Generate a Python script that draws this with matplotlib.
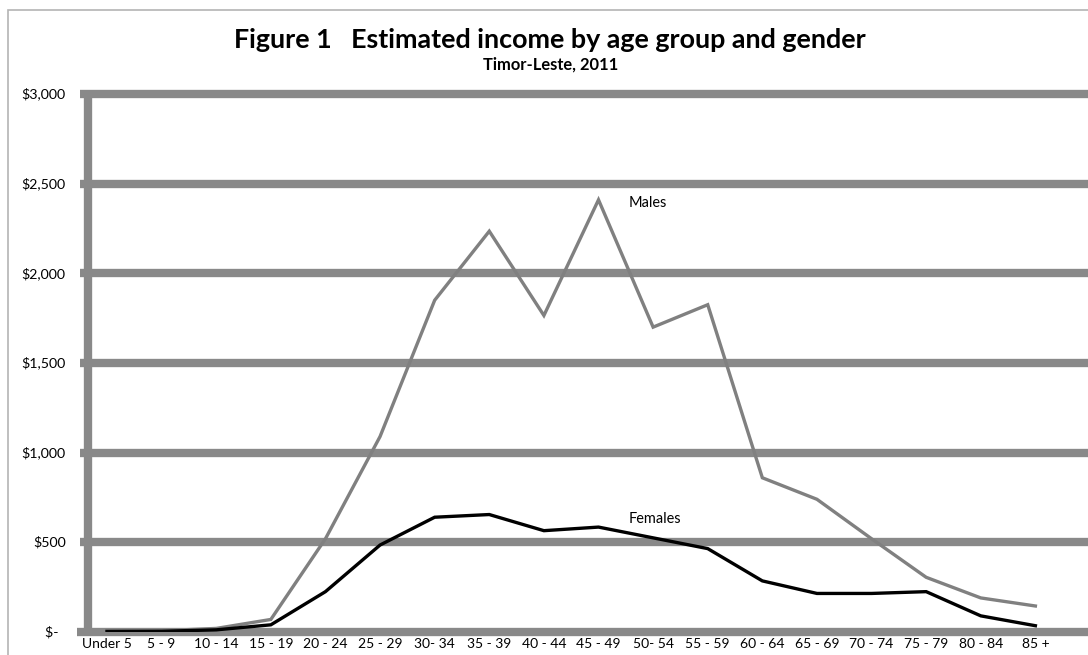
import numpy as np
import matplotlib
matplotlib.use("Agg")
import matplotlib.pyplot as plt
import matplotlib.patches as mpatches

# ── Data ─────────────────────────────────────────────────────────────────────
age_groups = ["Under 5", "5 - 9", "10 - 14", "15 - 19", "20 - 24", "25 - 29",
              "30- 34", "35 - 39", "40 - 44", "45 - 49", "50- 54", "55 - 59",
              "60 - 64", "65 - 69", "70 - 74", "75 - 79", "80 - 84", "85 +"]
males   = [5, 7, 20, 70, 520, 1090, 1850, 2235, 1765, 2410, 1700, 1825,
           860, 740, 520, 305, 190, 145]
females = [3, 4, 12, 40, 225, 485, 640, 655, 565, 585, 525, 465,
           285, 215, 215, 225, 90, 35]
y_ticks  = [0, 500, 1000, 1500, 2000, 2500, 3000]
y_labels = ["$-  ", "$500", "$1,000", "$1,500", "$2,000", "$2,500", "$3,000"]

GRID = "#898989"
plt.rcParams["font.family"] = ["Lato", "DejaVu Sans"]

fig = plt.figure(figsize=(10.88, 6.55), dpi=100)
renderer = fig.canvas.get_renderer()


def fit_size(text, width_px, bold=False, base=10):
    """Font size that makes text about width_px wide."""
    t = fig.text(0, 0, text, fontsize=base, fontweight="bold" if bold else "normal")
    w = t.get_window_extent(renderer).width
    t.remove()
    return base * width_px / w


fs_title = fit_size("Figure 1   Estimated income by age group and gender", 634, True)
fs_sub   = fit_size("Timor-Leste, 2011", 136, True)
fs_y     = fit_size("$1,000", 44)
fs_x     = fit_size("Under 5", 50)
fs_lab   = fit_size("Males", 38)

ax = fig.add_axes([88/1088, 23/655, 996/1088, 538/655])
x = np.arange(len(age_groups))

# frame around the chart area
fig.patches.append(mpatches.Rectangle((8/1088, -0.02), 1.1, (655-10)/655 + 0.02,
                                      transform=fig.transFigure, fill=False,
                                      edgecolor="#b4b4b4", lw=1.2))

# thick gridlines + axes (Excel style)
ax.hlines(y_ticks[1:], -0.49, 18.2, color=GRID, lw=6, clip_on=False, zorder=1)
ax.hlines(0, -0.55, 18.2, color=GRID, lw=6, clip_on=False, zorder=1)
ax.vlines(-0.348, -20, 3020, color=GRID, lw=6, clip_on=False, zorder=1)

ax.plot(x, males, color="#808080", lw=2.4, zorder=3, solid_joinstyle="miter")
ax.plot(x, females, color="black", lw=2.4, zorder=4, solid_joinstyle="miter")

ax.text(9.55, 2390, "Males", fontsize=fs_lab, va="center", ha="left")
ax.text(9.55, 630, "Females", fontsize=fs_lab, va="center", ha="left")

ax.set_xlim(-0.348, 17.89)
ax.set_ylim(0, 3000)
ax.set_xticks(x)
ax.set_xticklabels(age_groups, fontsize=fs_x)
ax.set_yticks(y_ticks)
ax.set_yticklabels(y_labels, fontsize=fs_y, va="center")
ax.tick_params(length=0)
ax.tick_params(axis="y", pad=16)
ax.tick_params(axis="x", pad=4)
for sp in ax.spines.values():
    sp.set_visible(False)

fig.text(550/1088, 1 - 40/655, "Figure 1   Estimated income by age group and gender",
         ha="center", va="center", fontsize=fs_title, fontweight="bold")
fig.text(551/1088, 1 - 65/655, "Timor-Leste, 2011",
         ha="center", va="center", fontsize=fs_sub, fontweight="bold")

plt.savefig("out.png", dpi=100)
